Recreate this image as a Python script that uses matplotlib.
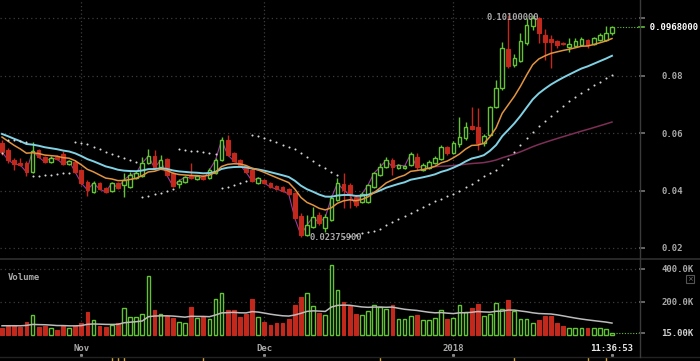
import numpy as np
import matplotlib
matplotlib.use('Agg')
import matplotlib.pyplot as plt
import matplotlib.transforms as mtransforms
from matplotlib.lines import Line2D
from matplotlib.patches import Rectangle
import pandas as pd

# ---------------- data ----------------
dates = pd.date_range('2017-10-19', periods=101, freq='D')

opens = [.0565, .0541, .0506, .0496, .0496, .0464, .0541, .0517, .0499, .0517,
         .0527, .0492, .0499, .0471, .0430, .0395, .0426, .0409, .0398, .0426,
         .0419, .0412, .0444, .0451, .0496, .0520, .0482, .0510, .0461, .0423,
         .0430, .0454, .0440, .0451, .0444, .0461, .0506, .0576, .0531, .0506,
         .0485, .0471, .0426, .0437, .0426, .0416, .0412, .0405, .0391, .0311,
         .0245, .0273, .0315, .0270, .0297, .0367, .0423, .0419, .0377, .0360,
         .0360, .0412, .0454, .0482, .0506, .0478, .0478, .0489, .0517, .0471,
         .0478, .0496, .0510, .0551, .0531, .0562, .0583, .0625, .0621, .0565,
         .0593, .0691, .0757, .0892, .0837, .0851, .0913, .0973, .1000, .0941,
         .0927, .0920, .0913, .0899, .0903, .0906, .0924, .0910, .0924, .0924,
         .0948]
highs = [.0576, .0548, .0513, .0513, .0503, .0569, .0544, .0520, .0520, .0524,
         .0538, .0506, .0506, .0475, .0437, .0433, .0430, .0412, .0430, .0430,
         .0461, .0464, .0468, .0517, .0544, .0541, .0524, .0513, .0464, .0440,
         .0451, .0496, .0454, .0454, .0478, .0513, .0586, .0593, .0534, .0510,
         .0489, .0475, .0447, .0440, .0430, .0419, .0416, .0409, .0395, .0322,
         .0315, .0343, .0325, .0318, .0384, .0444, .0461, .0426, .0384, .0395,
         .0423, .0464, .0496, .0517, .0513, .0492, .0489, .0534, .0531, .0496,
         .0506, .0520, .0558, .0555, .0572, .0656, .0638, .0691, .0687, .0597,
         .0694, .0785, .0917, .1010, .0875, .0948, .1000, .1010, .1005, .0962,
         .0941, .0924, .0917, .0931, .0931, .0934, .0927, .0934, .0948, .0973,
         .0973]
lows = [.0524, .0496, .0471, .0485, .0451, .0461, .0513, .0496, .0496, .0506,
        .0489, .0489, .0461, .0419, .0381, .0391, .0402, .0391, .0395, .0405,
        .0377, .0409, .0440, .0447, .0492, .0475, .0478, .0451, .0412, .0409,
        .0426, .0440, .0437, .0437, .0440, .0458, .0503, .0520, .0499, .0485,
        .0461, .0430, .0423, .0423, .0409, .0402, .0395, .0384, .0301, .023759,
        .0242, .0270, .0280, .0256, .0294, .0364, .0339, .0339, .0343, .0357,
        .0357, .0409, .0451, .0478, .0454, .0475, .0475, .0485, .0471, .0468,
        .0475, .0492, .0506, .0524, .0527, .0551, .0576, .0611, .0541, .0555,
        .0590, .0687, .0750, .0826, .0830, .0847, .0906, .0959, .0913, .0854,
        .0826, .0896, .0906, .0882, .0899, .0903, .0896, .0906, .0920, .0920,
        .0941]
closes = [.0534, .0506, .0492, .0489, .0464, .0538, .0517, .0499, .0513, .0510,
          .0492, .0503, .0464, .0426, .0402, .0426, .0405, .0395, .0426, .0409,
          .0437, .0454, .0461, .0496, .0520, .0478, .0506, .0454, .0416, .0433,
          .0447, .0444, .0451, .0440, .0471, .0506, .0576, .0524, .0503, .0489,
          .0464, .0433, .0444, .0426, .0412, .0405, .0398, .0388, .0304, .0245,
          .0280, .0308, .0287, .0308, .0374, .0426, .0402, .0384, .0350, .0388,
          .0419, .0461, .0482, .0506, .0482, .0489, .0485, .0527, .0482, .0489,
          .0499, .0513, .0551, .0531, .0565, .0586, .0621, .0614, .0565, .0590,
          .0691, .0757, .0896, .0833, .0861, .0920, .0976, .1000, .0948, .0917,
          .0917, .0906, .0910, .0910, .0920, .0927, .0906, .0931, .0941, .0948,
          .0968]
volumes_k = [44, 57, 57, 51, 81, 122, 51, 55, 41, 30,
             55, 41, 55, 71, 138, 88, 55, 51, 61, 71,
             163, 112, 108, 128, 356, 153, 128, 116, 102, 81,
             75, 167, 102, 112, 96, 218, 254, 153, 153, 108,
             128, 216, 112, 77, 61, 71, 75, 98, 183, 228,
             254, 177, 132, 122, 423, 274, 197, 173, 126, 122,
             146, 183, 169, 157, 179, 96, 96, 116, 119, 88,
             88, 102, 153, 96, 106, 179, 138, 163, 187, 116,
             126, 193, 157, 210, 148, 96, 96, 75, 88, 114,
             114, 75, 55, 44, 41, 41, 44, 44, 41, 37,
             15]

ema_fast_seed, ema_slow_seed, vol_ma_seed = 0.0586, 0.0597, 56
sar_seed, sar_ep_seed = 0.0531, 0.0576
long_ma_start = 68
event_idx = [18, 19, 20, 33, 62, 84, 96, 99]

price_ticks = [0.02, 0.04, 0.06, 0.08, 0.10]
vol_ticks = [200, 400]
last_time_label = '11:36:53'
high_label, low_label = '0.10100000', '0.02375900'

# ---------------- helpers ----------------
o = np.array(opens); h = np.array(highs); l = np.array(lows); c = np.array(closes)
v = np.array(volumes_k, dtype=float)
n = len(c)
x = np.arange(n)


def ema(vals, period, seed):
    a = 2.0 / (period + 1)
    out = [seed]
    for val in vals[1:]:
        out.append(out[-1] + a * (val - out[-1]))
    return np.array(out)


def psar(hi, lo, sar0, ep0, up=True, step=0.02, amax=0.05):
    sar = [sar0]
    ep, af = ep0, step
    for i in range(1, len(hi)):
        s = sar[-1] + af * (ep - sar[-1])
        if up:
            s = min(s, lo[i - 1], lo[max(i - 2, 0)])
            if lo[i] < s:
                up, s, ep, af = False, ep, lo[i], step
            elif hi[i] > ep:
                ep, af = hi[i], min(af + step, amax)
        else:
            s = max(s, hi[i - 1], hi[max(i - 2, 0)])
            if hi[i] > s:
                up, s, ep, af = True, ep, hi[i], step
            elif lo[i] < ep:
                ep, af = lo[i], min(af + step, amax)
        sar.append(s)
    return np.array(sar)


ema_fast = ema(c, 10, ema_fast_seed)
ema_slow = ema(c, 21, ema_slow_seed)
sar = psar(h, l, sar_seed, sar_ep_seed)
long_ma = ema(c[long_ma_start:], 100, c[long_ma_start])
vol_ma = ema(v, 20, vol_ma_seed)

GREEN = '#63c236'
RED = '#c3281d'
GRID = '#3c3c3c'
TXT = '#a9a9a9'
MONO = 'DejaVu Sans Mono'

W, H = 700, 361
fig = plt.figure(figsize=(7, 3.61), dpi=100, facecolor='black')


def fy(py):
    return 1 - py / H


X0, X1 = -0.33, 104.43
ax = fig.add_axes([0, fy(258), 639 / W, 258 / H], facecolor='black')
axv = fig.add_axes([0, fy(340), 639 / W, (340 - 259) / H], facecolor='black')

ax.set_xlim(X0, X1)
ax.set_ylim(0.1063 - 0.000348 * 258, 0.1063)
axv.set_xlim(X0, X1)
axv.set_ylim((335 - 340) * 6.06, (335 - 259) * 6.06)

month_idx = [i for i, d in enumerate(dates) if d.day == 1]
month_lbl = [('%d' % dates[i].year) if dates[i].month == 1 else dates[i].strftime('%b') for i in month_idx]

for a in (ax, axv):
    for s in a.spines.values():
        s.set_visible(False)
    for mi in month_idx:
        a.axvline(mi, color=GRID, lw=0.9, ls=(0, (1, 2)), zorder=0)

for p in price_ticks:
    ax.axhline(p, color=GRID, lw=0.9, ls=(0, (1, 2.5)), zorder=0)
for vt in vol_ticks:
    axv.axhline(vt, color=GRID, lw=0.9, ls=(0, (1, 2.5)), zorder=0)

# ---------------- candles ----------------
up = c >= o
body_lo = np.minimum(o, c)
body_h = np.maximum(np.abs(c - o), 0.0002)
cols = np.where(up, GREEN, RED)
ax.vlines(x, l, h, colors=cols, lw=1.0, zorder=3)
ax.bar(x[up], body_h[up], bottom=body_lo[up], width=0.6, facecolor='black',
       edgecolor=GREEN, lw=1.0, zorder=4)
ax.bar(x[~up], body_h[~up], bottom=body_lo[~up], width=0.6, facecolor=RED,
       edgecolor=RED, lw=0.8, zorder=4)

# indicator lines
ax.plot(x[:long_ma_start + 1], c[:long_ma_start + 1], color='#9b3b9e', lw=0.8, zorder=2)
ax.plot(x[long_ma_start:], long_ma, color='#7e2f57', lw=1.1, zorder=2)
ax.plot(x, ema_slow, color='#80d2e4', lw=1.4, zorder=5)
ax.plot(x, ema_fast, color='#e39440', lw=1.1, zorder=5)
ax.scatter(x, sar, s=2.2, color='#d6d6d6', lw=0, zorder=6)

# last price marker
ax.plot([x[-1] + 0.8, X1], [c[-1], c[-1]], color=GREEN, lw=0.8, ls=(0, (1, 1.5)), zorder=2)

# high / low annotations
ih = int(np.argmax(h)); il = int(np.argmin(l))
ax.text(ih - 3.6, h[ih] - 0.0007, high_label, color=TXT, fontsize=6.3, family=MONO,
        fontweight='bold', ha='left', va='center', zorder=7)
ax.text(il + 1.4, l[il], low_label, color=TXT, fontsize=6.3, family=MONO,
        fontweight='bold', ha='left', va='center', zorder=7)

# right price axis
ax.yaxis.tick_right()
ax.set_yticks(price_ticks)
ax.set_yticklabels(['%.2f' % p if p < 0.1 else '' for p in price_ticks])
ax.tick_params(axis='y', colors='#777777', length=4, width=1.2, pad=12, labelcolor=TXT,
               labelsize=6.5)
for t in ax.get_yticklabels():
    t.set_family(MONO); t.set_fontweight('bold')
ax.set_xticks([])
btr = mtransforms.blended_transform_factory(ax.transAxes, ax.transData)
ax.text(1.0, c[-1], '  ' + '%.7f' % c[-1], transform=btr,
        color='white', fontsize=6.5, family=MONO, fontweight='bold', ha='left', va='center',
        clip_on=False)
ax.plot([1.0, 1.0 + 5 / 639], [c[-1], c[-1]], color=GREEN, lw=1.2, transform=btr, clip_on=False)

# ---------------- volume ----------------
axv.bar(x[up], v[up], width=0.62, facecolor='black', edgecolor=GREEN, lw=1.0, zorder=3)
axv.bar(x[~up], v[~up], width=0.62, facecolor=RED, edgecolor=RED, lw=0.8, zorder=3)
axv.plot(x, vol_ma, color='#bcbcbc', lw=1.1, zorder=4)
axv.plot([x[-1] + 0.6, X1], [v[-1], v[-1]], color=GREEN, lw=0.8, ls=(0, (1, 1.5)), zorder=2)

axv.yaxis.tick_right()
axv.set_yticks(vol_ticks + [v[-1]])
axv.set_yticklabels(['%.1fK' % vt for vt in vol_ticks] + ['%.2fK' % v[-1]])
axv.tick_params(axis='y', colors='#777777', length=4, width=1.2, pad=12, labelcolor=TXT,
                labelsize=6.5)
for t in axv.get_yticklabels():
    t.set_family(MONO); t.set_fontweight('bold')
axv.get_yticklabels()[-1].set_color('#d0d0d0')
axv.text(8 / 639, 1 - (278 - 259) / 81, 'Volume', transform=axv.transAxes, color=TXT,
         fontsize=6.5, family=MONO, fontweight='bold', ha='left', va='center')

axv.set_xticks(month_idx + [x[-1]])
axv.set_xticklabels(month_lbl + [last_time_label])
axv.tick_params(axis='x', length=0, pad=3, labelcolor=TXT, labelsize=6.5)
for t in axv.get_xticklabels():
    t.set_family(MONO); t.set_fontweight('bold')
axv.get_xticklabels()[-1].set_color('#e8e8e8')

# small tick dots under the time labels and event markers
bt = mtransforms.blended_transform_factory(axv.transData, fig.transFigure)
for mi in month_idx + [x[-1]]:
    axv.plot([mi], [fy(355)], marker='s', ms=1.2, color='#888888', transform=bt, clip_on=False)
for ei in event_idx:
    axv.plot([ei, ei], [fy(361), fy(357.5)], color='#c9a23a', lw=1.0, transform=bt, clip_on=False)

# frame lines
fig.add_artist(Line2D([0, 1], [fy(258.5), fy(258.5)], color='#303030', lw=1.2))
fig.add_artist(Line2D([0, 1], [fy(356.5), fy(356.5)], color='#222222', lw=1.0))
fig.add_artist(Line2D([639.5 / W, 639.5 / W], [fy(0), fy(357)], color='#3a3a3a', lw=1.0))
fig.add_artist(Rectangle((686 / W, fy(283)), 8 / W, 8 / H, fill=False, ec='#555555', lw=0.8))
fig.text(690 / W, fy(279), '×', color='#777777', fontsize=5, ha='center', va='center')

fig.savefig('out.png', dpi=100, facecolor='black')
